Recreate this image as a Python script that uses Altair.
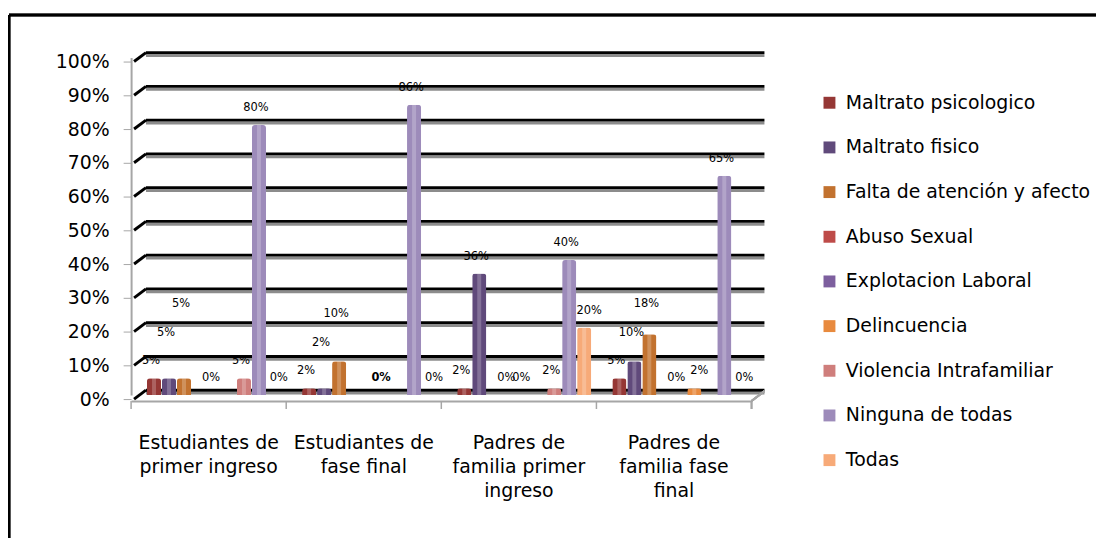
import altair as alt
import pandas as pd

# ---- data ----
groups = [
    "Estudiantes de|primer ingreso",
    "Estudiantes de|fase final",
    "Padres de|familia primer|ingreso",
    "Padres de|familia fase|final",
]
series = [
    "Maltrato psicologico",
    "Maltrato fisico",
    "Falta de atención y afecto",
    "Abuso Sexual",
    "Explotacion Laboral",
    "Delincuencia",
    "Violencia Intrafamiliar",
    "Ninguna de todas",
    "Todas",
]
colors = ["#953735", "#604A7B", "#C2722F", "#BE4B48", "#7D5F9E",
          "#E88A3E", "#CF7E7C", "#9D8BBA", "#F7AA78"]

values_g1 = [0.05, 0.05, 0.05, 0.00, 0.00, 0.00, 0.05, 0.80, 0.00]
values_g2 = [0.02, 0.02, 0.10, 0.00, 0.00, 0.00, 0.00, 0.86, 0.00]
values_g3 = [0.02, 0.36, 0.00, 0.00, 0.00, 0.00, 0.02, 0.40, 0.20]
values_g4 = [0.05, 0.10, 0.18, 0.00, 0.00, 0.02, 0.00, 0.65, 0.00]

labels_g1 = ["5%", "5%", "5%", "", "0%", "", "5%", "80%", "0%"]
labels_g2 = ["2%", "2%", "10%", "", "", "0%", "", "86%", "0%"]
labels_g3 = ["2%", "36%", "", "0%", "0%", "", "2%", "40%", "20%"]
labels_g4 = ["5%", "10%", "18%", "", "0%", "2%", "", "65%", "0%"]

y_ticks = [0.0, 0.1, 0.2, 0.3, 0.4, 0.5, 0.6, 0.7, 0.8, 0.9, 1.0]

# table; labels of the first three neighbouring series are staggered
# upward (as in the 3-D original) so that they do not collide
rows = []
for g, vals, labs in zip(groups,
                         [values_g1, values_g2, values_g3, values_g4],
                         [labels_g1, labels_g2, labels_g3, labels_g4]):
    prev = None
    for i, (s, v, l) in enumerate(zip(series, vals, labs)):
        pos = v + 0.05
        if i in (1, 2) and prev is not None:
            pos = max(pos, prev + 0.085)
        if i <= 2:
            prev = pos
        if g == groups[1] and s == series[5]:
            estilo = "negrita"
        elif s in (series[5], series[8]):
            estilo = "derecha"
        else:
            estilo = "normal"
        rows.append({"grupo": g, "serie": s, "valor": v,
                     "etiqueta": l, "pos_etiqueta": pos, "estilo": estilo})
df = pd.DataFrame(rows)
grid_df = pd.DataFrame({"v": y_ticks})
grp_df = pd.DataFrame({"grupo": groups})

W, H = 625, 340
FONT = "DejaVu Sans"

x_axis = alt.Axis(title=None, labelAngle=0, ticks=False, offset=6,
                  domainColor="#A6A6A6", domainWidth=2,
                  labelPadding=33, labelFontSize=19,
                  labelLineHeight=24, labelColor="#000000",
                  labelFont=FONT,
                  labelExpr="split(datum.label, '|')")
y_axis = alt.Axis(title=None, values=y_ticks, format=".0%",
                  grid=False, tickSize=8, tickOffset=4,
                  tickColor="#A6A6A6", domainColor="#A6A6A6",
                  domainWidth=2, labelFontSize=19,
                  labelFont=FONT, labelColor="#000000",
                  labelPadding=14)

x_enc = alt.X("grupo:N", sort=groups,
              scale=alt.Scale(paddingInner=0, paddingOuter=0),
              axis=x_axis)
xoff_enc = alt.XOffset("serie:N", sort=series,
                       scale=alt.Scale(range=[16, 151],
                                       paddingInner=0.06, paddingOuter=0))
y_scale = alt.Scale(domain=[0, 1], nice=False)

bars = alt.Chart(df).mark_bar(
    cornerRadiusTopLeft=3, cornerRadiusTopRight=3,
).encode(
    x=x_enc,
    xOffset=xoff_enc,
    y=alt.Y("valor:Q", scale=y_scale, axis=y_axis),
    y2=alt.value(H + 3),
    color=alt.Color("serie:N", sort=series,
                    scale=alt.Scale(domain=series, range=colors),
                    legend=alt.Legend(title=None, orient="none",
                                      legendX=694, legendY=36,
                                      symbolType="square", symbolSize=144,
                                      symbolStrokeWidth=0,
                                      labelFontSize=19, labelFont=FONT,
                                      labelColor="#000000",
                                      rowPadding=25, labelOffset=7,
                                      labelLimit=400)),
)

# light highlight to hint at the cylinder shading
shine = alt.Chart(df).mark_bar(
    color="#FFFFFF", opacity=0.22, width=4,
).encode(
    x=alt.X("grupo:N", sort=groups, axis=x_axis),
    xOffset=xoff_enc,
    y=alt.Y("valor:Q", scale=y_scale, axis=y_axis),
    y2=alt.value(H + 3),
)


def label_layer(estilo, dx, weight):
    return alt.Chart(df).mark_text(
        font=FONT, fontSize=11.5, color="#000000", dx=dx, fontWeight=weight,
    ).encode(
        x=alt.X("grupo:N", sort=groups, axis=x_axis),
        xOffset=xoff_enc,
        y=alt.Y("pos_etiqueta:Q", scale=y_scale, axis=y_axis),
        text="etiqueta:N",
    ).transform_filter(alt.datum.estilo == estilo)


texts = label_layer("normal", -3, "normal")
texts_right = label_layer("derecha", 5, "normal")
texts_bold = label_layer("negrita", -3, "bold")

grid_shadow = alt.Chart(grid_df).mark_rule(
    color="#8C8C8C", strokeWidth=3, yOffset=-2,
).encode(
    x=alt.value(15), x2=alt.value(W + 13),
    y=alt.Y("v:Q", scale=y_scale, axis=y_axis),
)
grid = alt.Chart(grid_df).mark_rule(
    color="#000000", strokeWidth=3, yOffset=-5,
).encode(
    x=alt.value(15), x2=alt.value(W + 13),
    y=alt.Y("v:Q", scale=y_scale, axis=y_axis),
)
ledge = alt.Chart(grid_df).mark_rule(
    color="#000000", strokeWidth=3, yOffset=4, y2Offset=-5,
).encode(
    x=alt.value(3), x2=alt.value(15),
    y=alt.Y("v:Q", scale=y_scale, axis=y_axis),
    y2="v:Q",
)

dividers = alt.Chart(grp_df).mark_rule(color="#A6A6A6", strokeWidth=1.5).encode(
    x=alt.X("grupo:N", sort=groups, bandPosition=0, axis=x_axis),
    y=alt.value(H + 6), y2=alt.value(H + 14),
)
last_div = alt.Chart(grp_df).mark_rule(color="#A6A6A6", strokeWidth=1.5).encode(
    x=alt.value(W), y=alt.value(H + 6), y2=alt.value(H + 14),
)
floor_slant = alt.Chart(grp_df).mark_rule(color="#A6A6A6", strokeWidth=2).encode(
    x=alt.value(W), x2=alt.value(W + 13),
    y=alt.value(H + 6), y2=alt.value(H - 4),
)
border_top = alt.Chart(grp_df).mark_rule(color="#000000", strokeWidth=2.5).encode(
    x=alt.value(-123), x2=alt.value(990), y=alt.value(-43),
)
border_left = alt.Chart(grp_df).mark_rule(color="#000000", strokeWidth=2.5).encode(
    x=alt.value(-123), y=alt.value(-43), y2=alt.value(600),
)

chart = alt.layer(
    grid_shadow, grid, ledge, bars, shine, texts, texts_right, texts_bold,
    dividers, last_div, floor_slant, border_top, border_left,
).properties(
    width=W, height=H,
    autosize=alt.AutoSizeParams(type="none"),
    padding={"left": 124, "top": 48, "right": 347, "bottom": 142},
    background="#FFFFFF",
).configure_view(stroke=None)

chart.save("out.html", embed_options={"renderer": "svg", "actions": False})
